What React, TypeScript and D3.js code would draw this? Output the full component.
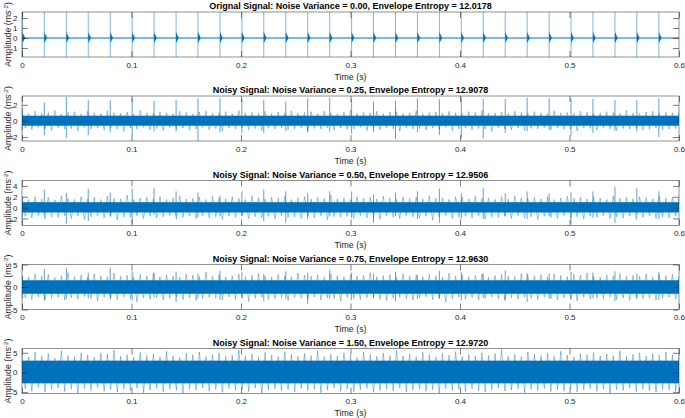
import { useEffect, useRef } from 'react';
import * as d3 from 'd3';

const WIDTH = 685;
const HEIGHT = 418;
const X_LEFT = 22;
const X_RIGHT = 679;
const PLOT_TOPS = [12, 96, 180.5, 264.5, 348.5];
const PLOT_H = 45;
const LINE_COLOR = '#0072BD';
const AXIS_COLOR = '#262626';
const FONT = '"Liberation Sans", Arial, Helvetica, sans-serif';

const TITLES = [
  'Orignal Signal: Noise Variance = 0.00, Envelope Entropy = 12.0178',
  'Noisy Signal: Noise Variance = 0.25, Envelope Entropy = 12.9078',
  'Noisy Signal: Noise Variance = 0.50, Envelope Entropy = 12.9506',
  'Noisy Signal: Noise Variance = 0.75, Envelope Entropy = 12.9630',
  'Noisy Signal: Noise Variance = 1.50, Envelope Entropy = 12.9720',
];

const X_TICKS = [0, 0.1, 0.2, 0.3, 0.4, 0.5, 0.6];
const Y_DOMAINS = [[-1.9, 2.6], [-2.5, 3.1], [-3.3, 5.0], [-5, 5], [-5.4, 6.1]];
const Y_TICKS = [[-1, 0, 1, 2], [-2, 0, 2], [-2, 0, 2, 4], [-5, 0, 5], [-5, 0, 5]];

// fault impulses (s)
const IMPULSE_T = [
  0.0004, 0.0204, 0.0405, 0.0605, 0.0806, 0.1006, 0.1206, 0.1407, 0.1607, 0.1808,
  0.2008, 0.2208, 0.2409, 0.2609, 0.281, 0.301, 0.321, 0.3411, 0.3611, 0.3812,
  0.4012, 0.4212, 0.4413, 0.4613, 0.4814, 0.5014, 0.5214, 0.5415, 0.5615, 0.5816,
];

// impulse peak values per panel (panel 5 has none visible above the noise)
const PEAK_HI_1 = [2.6, 2.6, 2.6, 2.6, 2.6, 2.6, 2.6, 2.6, 2.6, 2.6, 2.6, 2.6, 2.6, 2.6, 2.6, 2.6, 2.6, 2.6, 2.6, 2.6, 2.6, 2.6, 2.6, 2.6, 2.6, 2.6, 2.6, 2.6, 2.6, 2.6];
const PEAK_LO_1 = [-1.9, -1.9, -1.9, -1.9, -1.9, -1.9, -1.9, -1.9, -1.9, -1.9, -1.9, -1.9, -1.9, -1.9, -1.9, -1.9, -1.9, -1.9, -1.9, -1.9, -1.9, -1.9, -1.9, -1.9, -1.9, -1.9, -1.9, -1.9, -1.9, -1.9];
const PEAK_HI_2 = [1.6, 2.3, 3.0, 2.6, 2.6, 2.8, 2.5, 2.6, 2.8, 2.8, 2.7, 2.6, 2.4, 2.8, 2.9, 2.7, 2.4, 2.5, 2.8, 2.7, 3.0, 2.75, 2.75, 2.9, 2.8, 2.8, 2.75, 2.6, 2.6, 2.75];
const PEAK_LO_2 = [-1.2, -1.8, -2.1, -1.75, -1.4, -1.8, -1.3, -1.3, -2.5, -1.4, -1.5, -1.5, -1.25, -1.4, -1.4, -1.6, -1.4, -2.25, -1.4, -1.75, -2.2, -2.2, -1.5, -1.3, -1.1, -1.8, -1.5, -1.2, -1.3, -2.0];
const PEAK_HI_3 = [2.0, 3.3, 2.7, 3.5, 2.8, 3.5, 3.6, 3.0, 2.8, 2.2, 3.0, 3.3, 3.0, 2.7, 3.0, 3.0, 2.4, 2.8, 3.0, 3.5, 2.6, 3.6, 2.6, 3.0, 2.6, 2.8, 3.0, 3.9, 3.6, 3.0];
const PEAK_LO_3 = [-1.8, -1.3, -3.0, -2.5, -1.6, -3.0, -1.3, -1.6, -1.8, -1.6, -1.6, -2.5, -2.8, -2.1, -1.6, -1.9, -2.8, -1.6, -2.1, -2.8, -2.1, -2.1, -1.6, -2.1, -1.6, -3.1, -1.9, -2.8, -1.3, -2.1];
const PEAK_HI_4 = [2.5, 4.0, 4.3, 3.2, 4.3, 3.5, 3.2, 3.4, 3.0, 3.6, 3.3, 2.9, 3.5, 3.1, 3.8, 3.2, 3.0, 3.4, 2.8, 3.6, 3.3, 3.0, 3.7, 3.1, 2.9, 3.4, 3.2, 3.5, 3.0, 3.3];
const PEAK_LO_4 = [-2.5, -2.9, -2.6, -2.5, -2.8, -3.0, -2.4, -3.4, -2.6, -2.8, -2.5, -3.1, -2.7, -3.8, -2.6, -2.9, -2.5, -3.2, -2.7, -2.6, -3.0, -2.5, -2.8, -3.3, -2.6, -2.9, -2.5, -3.1, -2.7, -2.8];

// ring-down blob after each impulse in the clean signal
const RING_HI = 0.6;
const RING_LO = -0.5;
const RING_LEN = 0.0025;

// dense part of the noise band, per panel
const CORE_HI = [0, 0.65, 1.0, 1.5, 3.0];
const CORE_LO = [0, -0.6, -0.9, -1.5, -2.8];

// noise envelope (upper / lower extremes), evenly spaced over 0..0.6 s
const NOISE_HI_2 = [1.1, 0.9, 1.2, 0.95, 1.0, 1.3, 0.85, 1.05, 1.15, 0.9, 1.2, 1.0, 0.9, 1.25, 1.0, 0.95, 1.1, 0.85, 1.3, 1.0, 0.95, 1.15, 1.0, 0.9, 1.2, 1.05, 0.85, 1.1, 1.25, 0.95, 1.0, 1.15, 0.9, 1.3, 1.0, 1.05, 0.95, 1.2, 0.9, 1.1, 1.0, 1.25, 0.95, 1.05, 1.15, 0.9, 1.2, 1.0, 0.85, 1.1, 1.3, 0.95, 1.05, 1.0, 1.2, 0.9, 1.1, 1.15, 0.95, 1.0, 1.25, 0.9, 1.05, 1.1, 0.95, 1.2, 1.0, 0.9, 1.15, 1.05, 1.3, 0.95, 1.0, 1.1, 0.9, 1.2, 1.05, 0.95, 1.15, 1.0, 0.9, 1.25, 1.0, 1.05, 0.95, 1.2, 1.1, 0.9, 1.0, 1.15, 1.05, 0.95, 1.3, 1.0, 0.9, 1.1, 1.2, 0.95, 1.05, 1.0, 1.15];
const NOISE_LO_2 = [-0.9, -1.1, -0.8, -1.0, -1.2, -0.85, -1.0, -0.95, -1.25, -0.8, -1.05, -0.9, -1.15, -0.85, -1.0, -1.3, -0.9, -1.0, -0.8, -1.1, -0.95, -1.2, -0.85, -1.0, -0.9, -1.15, -1.0, -0.8, -1.1, -0.95, -1.25, -0.9, -1.0, -0.85, -1.1, -0.95, -1.2, -0.9, -1.0, -0.85, -1.1, -1.0, -0.9, -1.3, -0.95, -1.0, -0.85, -1.15, -0.9, -1.05, -1.0, -0.8, -1.2, -0.95, -1.1, -0.9, -1.0, -1.25, -0.85, -1.0, -0.95, -1.15, -0.9, -1.05, -0.8, -1.2, -1.0, -0.9, -1.1, -0.95, -1.0, -1.3, -0.85, -1.0, -1.1, -0.9, -1.2, -0.95, -1.0, -0.85, -1.15, -0.9, -1.05, -1.0, -1.25, -0.9, -0.95, -1.1, -0.85, -1.0, -1.2, -0.95, -1.0, -0.9, -1.15, -1.05, -0.9, -1.1, -1.0, -0.95, -1.0];
const NOISE_HI_3 = [1.8, 1.5, 2.0, 1.6, 1.9, 1.4, 2.2, 1.7, 1.5, 2.0, 1.6, 1.9, 1.5, 2.1, 1.7, 1.6, 2.3, 1.5, 1.8, 1.9, 1.6, 2.0, 1.5, 1.8, 2.2, 1.6, 1.7, 1.9, 1.5, 2.1, 1.8, 1.6, 2.0, 1.7, 1.5, 2.2, 1.8, 1.6, 1.9, 1.7, 2.1, 1.5, 1.8, 2.0, 1.6, 1.9, 1.7, 2.3, 1.6, 1.8, 1.5, 2.0, 1.7, 1.9, 1.6, 2.1, 1.8, 1.5, 2.0, 1.7, 1.9, 1.6, 2.2, 1.7, 1.8, 1.5, 2.0, 1.9, 1.6, 2.1, 1.7, 1.8, 1.5, 2.0, 1.6, 2.2, 1.8, 1.7, 1.9, 1.6, 2.0, 1.5, 1.8, 2.1, 1.7, 1.9, 1.6, 2.0, 1.8, 1.5, 2.2, 1.7, 1.9, 1.6, 2.0, 1.8, 1.6, 2.1, 1.7, 1.9, 1.8];
const NOISE_LO_3 = [-1.6, -1.9, -1.5, -2.1, -1.7, -1.8, -1.5, -2.0, -1.6, -2.2, -1.7, -1.5, -1.9, -1.6, -2.3, -1.7, -1.8, -1.5, -2.0, -1.6, -1.9, -1.7, -1.5, -2.1, -1.8, -1.6, -2.0, -1.5, -1.9, -1.7, -2.2, -1.6, -1.8, -1.5, -2.0, -1.7, -1.9, -1.6, -2.1, -1.5, -1.8, -1.7, -2.0, -1.6, -1.9, -1.5, -2.2, -1.7, -1.8, -1.6, -2.0, -1.5, -1.9, -1.7, -2.1, -1.6, -1.8, -2.0, -1.5, -1.7, -1.9, -1.6, -2.3, -1.7, -1.5, -2.0, -1.8, -1.6, -1.9, -1.5, -2.1, -1.7, -1.8, -1.6, -2.0, -1.5, -1.9, -1.7, -2.2, -1.6, -1.8, -2.0, -1.5, -1.9, -1.7, -2.1, -1.6, -1.8, -1.5, -2.0, -1.7, -1.9, -1.6, -2.2, -1.8, -1.5, -2.0, -1.7, -1.9, -1.6, -1.8];
const NOISE_HI_4 = [2.6, 2.2, 3.0, 2.4, 2.8, 2.1, 2.5, 3.2, 2.3, 2.7, 2.2, 2.9, 2.5, 2.3, 3.1, 2.4, 2.6, 2.2, 2.8, 2.5, 3.0, 2.3, 2.7, 2.4, 2.2, 2.9, 2.6, 2.3, 3.3, 2.4, 2.7, 2.2, 2.5, 2.9, 2.3, 2.6, 3.0, 2.4, 2.2, 2.8, 2.5, 2.3, 3.1, 2.6, 2.4, 2.7, 2.2, 2.9, 2.5, 2.3, 2.8, 2.4, 2.6, 3.2, 2.3, 2.5, 2.7, 2.2, 3.0, 2.4, 2.6, 2.3, 2.8, 2.5, 2.2, 3.1, 2.4, 2.7, 2.3, 2.6, 2.9, 2.2, 2.5, 2.8, 2.4, 2.3, 3.0, 2.6, 2.4, 2.7, 2.2, 2.9, 2.5, 2.3, 2.8, 2.6, 3.1, 2.4, 2.2, 2.7, 2.5, 3.0, 2.3, 2.6, 2.4, 2.9, 2.2, 2.7, 2.5, 2.8, 2.4];
const NOISE_LO_4 = [-2.4, -2.8, -2.2, -3.0, -2.5, -2.3, -2.9, -2.4, -2.7, -2.1, -2.6, -3.1, -2.3, -2.5, -2.8, -2.2, -2.6, -3.3, -2.4, -2.7, -2.3, -2.9, -2.5, -2.2, -2.8, -2.4, -3.0, -2.6, -2.3, -2.5, -2.9, -2.2, -2.7, -2.4, -3.2, -2.5, -2.3, -2.8, -2.6, -2.4, -3.0, -2.3, -2.5, -2.7, -2.2, -2.9, -2.4, -2.6, -3.1, -2.3, -2.5, -2.8, -2.4, -2.2, -2.7, -3.0, -2.5, -2.3, -2.6, -2.9, -2.4, -2.2, -2.8, -2.5, -3.4, -2.6, -2.3, -2.7, -2.4, -2.9, -2.5, -2.2, -2.6, -3.0, -2.4, -2.7, -2.3, -2.5, -2.8, -2.2, -2.6, -2.9, -2.4, -2.5, -3.1, -2.3, -2.7, -2.4, -2.6, -2.2, -2.8, -2.5, -3.0, -2.3, -2.6, -2.4, -2.9, -2.5, -2.3, -2.7, -2.5];
const NOISE_HI_5 = [4.5, 3.9, 5.2, 4.2, 4.8, 3.7, 5.5, 4.3, 4.0, 5.0, 4.4, 3.8, 4.9, 4.6, 5.7, 4.1, 4.5, 3.9, 5.1, 4.3, 4.7, 4.0, 5.4, 4.2, 3.8, 4.9, 4.5, 5.2, 4.0, 4.6, 5.0, 4.1, 4.4, 5.8, 4.2, 4.7, 3.9, 5.1, 4.4, 4.0, 5.3, 4.6, 4.1, 4.8, 4.3, 5.5, 4.0, 4.6, 4.2, 5.0, 4.4, 3.8, 5.2, 4.5, 4.1, 4.9, 4.3, 5.6, 4.2, 4.7, 4.0, 5.1, 4.5, 3.9, 4.8, 4.4, 5.3, 4.1, 4.6, 4.2, 5.0, 4.3, 4.8, 5.9, 4.1, 4.5, 4.0, 5.2, 4.6, 4.3, 4.9, 4.1, 5.4, 4.4, 4.0, 4.8, 4.5, 5.1, 4.2, 4.7, 4.3, 5.5, 4.1, 4.6, 5.0, 4.2, 4.8, 4.4, 5.2, 4.5, 4.3];
const NOISE_LO_5 = [-4.2, -4.8, -3.9, -5.1, -4.4, -4.0, -4.9, -4.3, -5.3, -4.1, -4.6, -3.9, -4.8, -4.4, -5.0, -4.2, -4.7, -4.0, -5.2, -4.5, -4.1, -4.9, -4.3, -4.6, -5.4, -4.2, -4.5, -4.0, -4.8, -4.4, -5.1, -4.1, -4.6, -4.3, -4.9, -4.0, -5.3, -4.5, -4.2, -4.7, -4.4, -5.0, -4.1, -4.6, -4.3, -5.2, -4.5, -4.0, -4.8, -4.2, -4.9, -4.4, -4.1, -5.1, -4.6, -4.3, -4.7, -4.0, -5.0, -4.5, -4.2, -4.8, -4.4, -5.4, -4.1, -4.6, -4.3, -4.9, -4.2, -4.7, -5.1, -4.4, -4.0, -4.8, -4.5, -4.2, -5.2, -4.3, -4.6, -4.1, -4.9, -4.4, -4.7, -4.2, -5.0, -4.5, -4.1, -4.8, -4.3, -5.3, -4.4, -4.6, -4.0, -4.9, -4.2, -4.7, -5.1, -4.3, -4.5, -4.8, -4.4];

const PANELS = [
  { hi: null, lo: null, peakHi: PEAK_HI_1, peakLo: PEAK_LO_1 },
  { hi: NOISE_HI_2, lo: NOISE_LO_2, peakHi: PEAK_HI_2, peakLo: PEAK_LO_2 },
  { hi: NOISE_HI_3, lo: NOISE_LO_3, peakHi: PEAK_HI_3, peakLo: PEAK_LO_3 },
  { hi: NOISE_HI_4, lo: NOISE_LO_4, peakHi: PEAK_HI_4, peakLo: PEAK_LO_4 },
  { hi: NOISE_HI_5, lo: NOISE_LO_5, peakHi: null, peakLo: null },
];

export default function App() {
  const svgRef = useRef<SVGSVGElement | null>(null);

  useEffect(() => {
    const svg = d3.select(svgRef.current);
    svg.selectAll('*').remove();

    const x = d3.scaleLinear().domain([0, 0.6]).range([X_LEFT, X_RIGHT]);
    const defs = svg.append('defs');

    PANELS.forEach((p, i) => {
      const top = PLOT_TOPS[i];
      const bottom = top + PLOT_H;
      const y = d3.scaleLinear().domain(Y_DOMAINS[i]).range([bottom, top]);
      const g = svg.append('g');

      defs.append('clipPath').attr('id', `clip${i}`)
        .append('rect').attr('x', X_LEFT).attr('y', top)
        .attr('width', X_RIGHT - X_LEFT).attr('height', PLOT_H);

      const plot = g.append('g').attr('clip-path', `url(#clip${i})`);

      if (p.hi && p.lo) {
        // dense core of the noise
        plot.append('rect')
          .attr('x', X_LEFT).attr('width', X_RIGHT - X_LEFT)
          .attr('y', y(CORE_HI[i])).attr('height', y(CORE_LO[i]) - y(CORE_HI[i]))
          .attr('fill', LINE_COLOR);

        // signal trace bouncing between the read envelope extremes
        const n = Math.min(p.hi.length, p.lo.length);
        const step = 0.6 / (n - 1);
        const pts: [number, number][] = [];
        for (let k = 0; k < n; k++) {
          pts.push([k * step, p.hi[k]]);
          if (k < n - 1) pts.push([k * step + step / 2, p.lo[k]]);
        }
        plot.append('path')
          .attr('d', d3.line<[number, number]>().x(d => x(d[0])).y(d => y(d[1]))(pts))
          .attr('fill', 'none')
          .attr('stroke', LINE_COLOR)
          .attr('stroke-opacity', 0.55)
          .attr('stroke-width', 0.75);
      } else {
        // clean signal baseline
        plot.append('line')
          .attr('x1', x(0)).attr('x2', x(0.6))
          .attr('y1', y(0)).attr('y2', y(0))
          .attr('stroke', LINE_COLOR).attr('stroke-width', 1);
      }

      if (p.peakHi && p.peakLo) {
        plot.selectAll('line.imp')
          .data(IMPULSE_T)
          .join('line')
          .attr('class', 'imp')
          .attr('x1', d => x(d)).attr('x2', d => x(d))
          .attr('y1', (_, k) => y(p.peakHi![k]))
          .attr('y2', (_, k) => y(p.peakLo![k]))
          .attr('stroke', LINE_COLOR)
          .attr('stroke-opacity', i === 0 ? 0.5 : 0.65)
          .attr('stroke-width', 1);

        if (i === 0) {
          plot.selectAll('path.ring')
            .data(IMPULSE_T)
            .join('path')
            .attr('class', 'ring')
            .attr('d', d => `M${x(d)},${y(RING_HI)}L${x(d + RING_LEN)},${y(0)}L${x(d)},${y(RING_LO)}Z`)
            .attr('fill', LINE_COLOR);
        }
      }

      // axes box
      g.append('rect')
        .attr('x', X_LEFT).attr('y', top)
        .attr('width', X_RIGHT - X_LEFT).attr('height', PLOT_H)
        .attr('fill', 'none').attr('stroke', AXIS_COLOR).attr('stroke-width', 0.5);

      const styleAxis = (sel: d3.Selection<SVGGElement, unknown, null, undefined>) => {
        sel.select('.domain').remove();
        sel.selectAll('line').attr('stroke', AXIS_COLOR).attr('stroke-width', 0.6);
        sel.selectAll('text').attr('fill', AXIS_COLOR);
        sel.attr('font-family', FONT).attr('font-size', 8);
      };

      g.append('g').attr('transform', `translate(0,${bottom})`)
        .call(d3.axisBottom(x).tickValues(X_TICKS).tickSize(-6).tickPadding(5).tickFormat(d3.format('~g')))
        .call(styleAxis);
      g.append('g').attr('transform', `translate(0,${top})`)
        .call(d3.axisTop(x).tickValues(X_TICKS).tickSize(-6).tickFormat(() => ''))
        .call(styleAxis);
      g.append('g').attr('transform', `translate(${X_LEFT},0)`)
        .call(d3.axisLeft(y).tickValues(Y_TICKS[i]).tickSize(-6).tickPadding(4.5).tickFormat(d3.format('d')))
        .call(styleAxis);
      g.append('g').attr('transform', `translate(${X_RIGHT},0)`)
        .call(d3.axisRight(y).tickValues(Y_TICKS[i]).tickSize(-6).tickFormat(() => ''))
        .call(styleAxis);

      g.selectAll('.tick text').filter(function () { return (this as SVGTextElement).textContent === ''; }).remove();
      // hyphen-minus like the reference
      g.selectAll('.tick text').each(function () {
        const t = this as SVGTextElement;
        t.textContent = (t.textContent || '').replace('\u2212', '-');
      });

      g.append('text')
        .attr('x', (X_LEFT + X_RIGHT) / 2).attr('y', top - 3)
        .attr('text-anchor', 'middle')
        .attr('font-family', FONT).attr('font-size', 9).attr('font-weight', 'bold')
        .attr('fill', '#000')
        .text(TITLES[i]);

      g.append('text')
        .attr('x', (X_LEFT + X_RIGHT) / 2).attr('y', bottom + 22.5)
        .attr('text-anchor', 'middle')
        .attr('font-family', FONT).attr('font-size', 8.8)
        .attr('fill', AXIS_COLOR)
        .text('Time (s)');

      const yl = g.append('text')
        .attr('transform', `translate(10.5,${top + PLOT_H / 2}) rotate(-90)`)
        .attr('text-anchor', 'middle')
        .attr('font-family', FONT).attr('font-size', 8.8)
        .attr('fill', AXIS_COLOR);
      yl.append('tspan').text('Amplitude (ms');
      yl.append('tspan').attr('baseline-shift', 'super').attr('font-size', 6.2).text('-2');
      yl.append('tspan').text(')');
    });
  }, []);

  return (
    <svg
      ref={svgRef}
      width={WIDTH}
      height={HEIGHT}
      style={{ display: 'block', position: 'absolute', left: 0, top: 0, background: '#fff' }}
    />
  );
}
